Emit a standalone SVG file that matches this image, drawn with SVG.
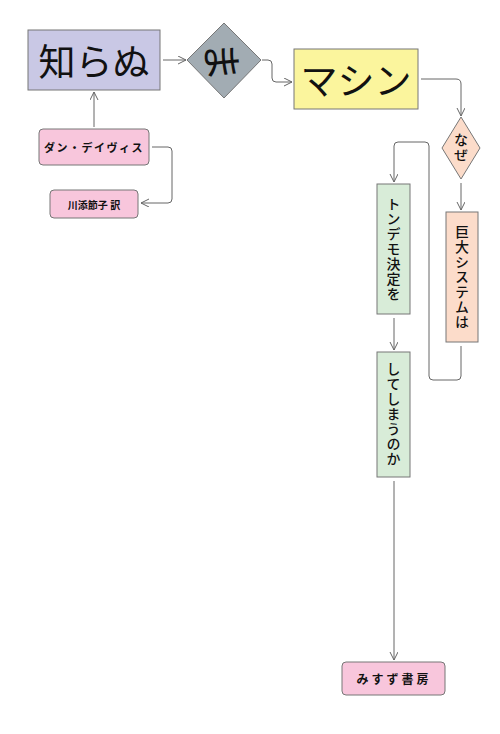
<svg xmlns="http://www.w3.org/2000/svg" width="500" height="734" viewBox="0 0 500 734">
<defs>
<style>
.box{stroke:#777;stroke-width:1}
.t{font-family:"Noto Sans CJK JP","Noto Sans",sans-serif;fill:#111;text-anchor:middle;dominant-baseline:central}
.v{writing-mode:vertical-rl;letter-spacing:1px}
.c path{fill:none;stroke:#666;stroke-width:1}
</style>
<marker id="a" markerWidth="10" markerHeight="10" refX="8" refY="4" orient="auto" markerUnits="userSpaceOnUse">
<path d="M0,0 L8,4 L0,8" fill="none" stroke="#666" stroke-width="1"/>
</marker>
</defs>
<rect width="500" height="734" fill="#fff"/>
<g class="c">
<path d="M163,60 H186" marker-end="url(#a)"/>
<path d="M262,60 H268 Q272,60 272,64 V78 Q272,82 276,82 H292" marker-end="url(#a)"/>
<path d="M421,79 H456 Q461,79 461,84 V116" marker-end="url(#a)"/>
<path d="M461,183 V210" marker-end="url(#a)"/>
<path d="M461,346 V376 Q461,380 457,380 H433 Q429,380 429,376 V146 Q429,142 425,142 H398 Q394,142 394,146 V182" marker-end="url(#a)"/>
<path d="M394,318 V350" marker-end="url(#a)"/>
<path d="M394,481 V660" marker-end="url(#a)"/>
<path d="M94,127 V92" marker-end="url(#a)"/>
<path d="M152,147 H168 Q172,147 172,151 V199 Q172,203 168,203 H141" marker-end="url(#a)"/>
</g>
<g id="shiranu">
<rect class="box" x="28" y="30" width="132" height="60" fill="#c9c8e5"/>
<text class="t" x="94" y="60" font-size="37">知らぬ</text>
</g>
<g id="ma">
<polygon class="box" points="224,23 261,60 224,98 187,60" fill="#a2acb3"/>
<text class="t" x="224" y="61" font-size="40" transform="rotate(85 224 61)">ま</text>
</g>
<g id="machine">
<rect class="box" x="294" y="49" width="124" height="60" fill="#fbf59d"/>
<text class="t" x="356" y="79" font-size="37">マシン</text>
</g>
<g id="naze">
<polygon class="box" points="461,117 480,148 461,179 442,148" fill="#fcdcca"/>
<text class="t v" x="461" y="148" font-size="14" font-weight="500">なぜ</text>
</g>
<g id="kyodai">
<rect class="box" x="446" y="212" width="32" height="130" fill="#fcdcca"/>
<text class="t v" x="462" y="277" font-size="14" font-weight="500">巨大システムは</text>
</g>
<g id="tondemo">
<rect class="box" x="377" y="184" width="33" height="130" fill="#d8ecd8"/>
<text class="t v" x="393.5" y="249" font-size="14" font-weight="500">トンデモ決定を</text>
</g>
<g id="shiteshimau">
<rect class="box" x="377" y="352" width="33" height="125" fill="#d8ecd8"/>
<text class="t v" x="393.5" y="414" font-size="14" font-weight="500">してしまうのか</text>
</g>
<g id="dan">
<rect class="box" x="39" y="129" width="110" height="36" rx="4" fill="#f8c6dc"/>
<text class="t" x="94" y="147" font-size="11" font-weight="bold" letter-spacing="1.5">ダン・デイヴィス</text>
</g>
<g id="kawazoe">
<rect class="box" x="50" y="190" width="88" height="28" rx="4" fill="#f8c6dc"/>
<text class="t" x="94" y="204" font-size="10" font-weight="bold">川添節子 訳</text>
</g>
<g id="misuzu">
<rect class="box" x="342" y="662" width="103" height="33" rx="4" fill="#f8c6dc"/>
<text class="t" x="394" y="678.5" font-size="12" font-weight="bold" letter-spacing="3">みすず書房</text>
</g>
</svg>
